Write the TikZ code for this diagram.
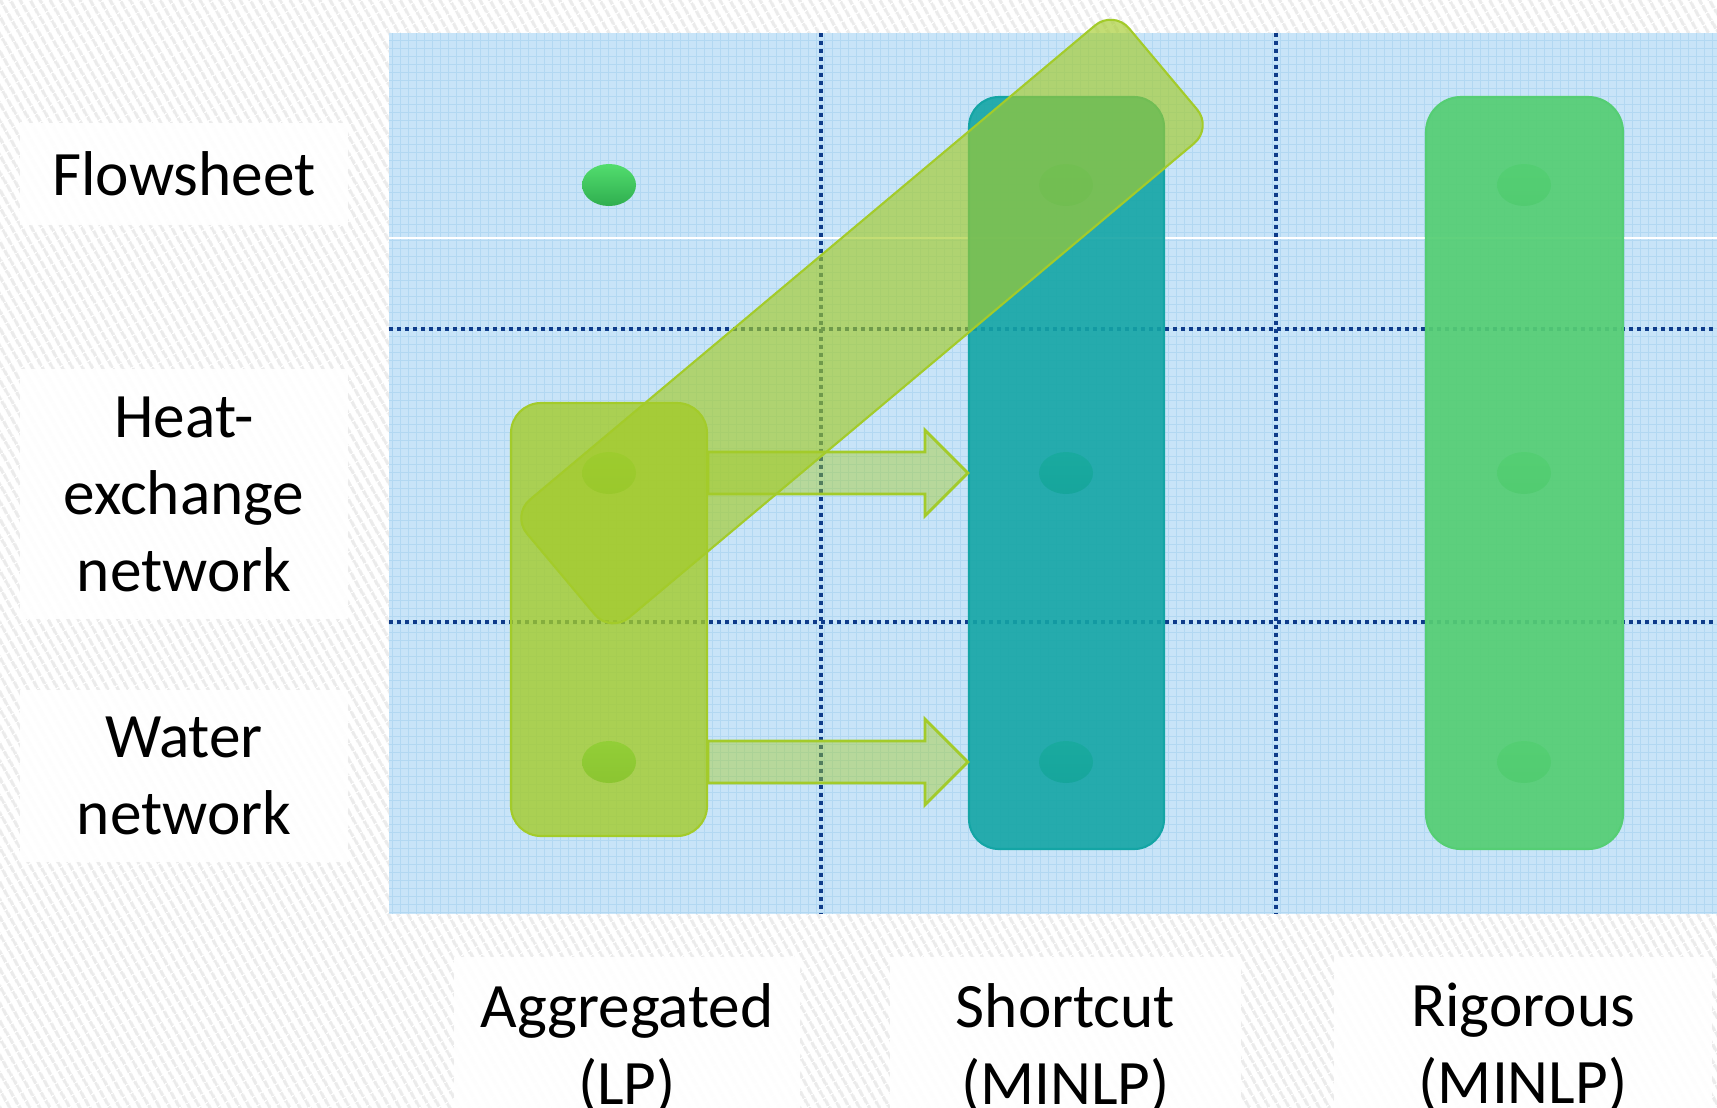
\documentclass[tikz,border=0pt]{standalone}
\usepackage{fontspec}
\setmainfont{Carlito}
\usetikzlibrary{positioning,shapes.geometric,calc,patterns.meta}
\definecolor{panelblue}{HTML}{C8E4F8}
\definecolor{gridblue}{HTML}{B2D8F2}
\definecolor{navy}{HTML}{0F3C8A}
\definecolor{lime}{HTML}{A3CB2A}
\definecolor{tealbox}{HTML}{14A5A5}
\definecolor{leaf}{HTML}{55CE74}
\definecolor{dotlight}{HTML}{52DD6E}
\definecolor{dotdark}{HTML}{2FAE4F}
\tikzset{
  rowlabel/.style={
    rectangle, fill=white, fill opacity=0.9, text opacity=1,
    align=center, inner sep=0pt,
    font=\fontsize{18}{21.9}\selectfont
  },
  collabel/.style={rowlabel},
  gdot/.style={ellipse, minimum width=5.4mm, minimum height=4.2mm,
    inner sep=0pt, top color=dotlight, bottom color=dotdark},
  modelbox/.style={rectangle, rounded corners=3mm, draw=#1, fill=#1,
    line width=0.6pt, inner sep=0pt},
  modelbox/.default=lime,
  blockarrow/.style={draw=lime, fill=lime, fill opacity=0.45,
    line width=0.8pt, line join=miter},
  divider/.style={navy, line width=1pt, dash pattern=on 0.35mm off 0.45mm},
}
\begin{document}
\begin{tikzpicture}[x=0.1mm, y=-0.1mm]
    \useasboundingbox (0,0) rectangle (1717,1107);
    % striped background
    \fill[white] (0,0) rectangle (1717,1107);
    \fill[pattern={Lines[angle=-60,distance=0.87mm,line width=0.35mm]}, pattern color=black!8] (0,0) rectangle (1717,1107);
    % row and column labels
    \node[rowlabel, minimum width=32.8mm, minimum height=10.2mm] (flow) at (184,174) {Flowsheet};
    \node[rowlabel, minimum width=32.8mm, minimum height=25mm] (hen) at (184,494) {Heat-\\exchange\\network};
    \node[rowlabel, minimum width=32.8mm, minimum height=17.2mm] (water) at (184,776) {Water\\network};
    \node[collabel, minimum width=34.6mm, minimum height=18.2mm] (agglabel) at (627,1048) {Aggregated\\(LP)};
    \node[collabel, minimum width=35.1mm, minimum height=18.2mm] (shortlabel) at (1065.5,1048) {Shortcut\\(MINLP)};
    \node[collabel, minimum width=37.8mm, minimum height=18.2mm] (riglabel) at (1523,1048) {Rigorous\\(MINLP)};
    % panel
    \fill[panelblue] (389,33) rectangle (1717,914);
    \draw[gridblue, line width=0.2pt, step=0.8mm] (389,914) grid (1717,33);
    \draw[white, line width=0.8pt] (389,238) -- (1717,238);
    \foreach \x in {821,1276} \draw[divider] (\x,33) -- (\x,914);
    \foreach \y in {329,622} \draw[divider] (389,\y) -- (1717,\y);
    % dots
    \foreach \c/\x in {agg/609,short/1066,rig/1524}
      \foreach \r/\y in {flow/185,hen/473,water/762}
        \node[gdot] (\c\r) at (\x,\y) {};
    % model boxes
    \node[modelbox, fill opacity=0.8, minimum width=19.6mm, minimum height=43.3mm] (agg) at (609,619.5) {};
    \node[modelbox=tealbox, fill opacity=0.9, minimum width=19.5mm, minimum height=75.2mm] (short) at (1066.5,473) {};
    \node[modelbox=leaf, fill opacity=0.93, rounded corners=3.5mm, minimum width=19.7mm, minimum height=75.2mm] (rig) at (1524.5,473) {};
    % arrows
    \foreach \r in {hen,water} {
      \coordinate (from) at (agg.east |- agg\r);
      \coordinate (to) at (short.west |- agg\r);
      \draw[blockarrow] ($(from)+(0,-21)$) -- ($(to)+(-43,-21)$) -- ($(to)+(-43,-43)$) -- (to)
        -- ($(to)+(-43,43)$) -- ($(to)+(-43,21)$) -- ($(from)+(0,21)$) -- cycle;
    }
    % diagonal link
    \node[modelbox, fill opacity=0.65, rounded corners=2.4mm, minimum width=78.6mm, minimum height=15.4mm, rotate=40] (link) at (862,321.5) {};
\end{tikzpicture}
\end{document}
